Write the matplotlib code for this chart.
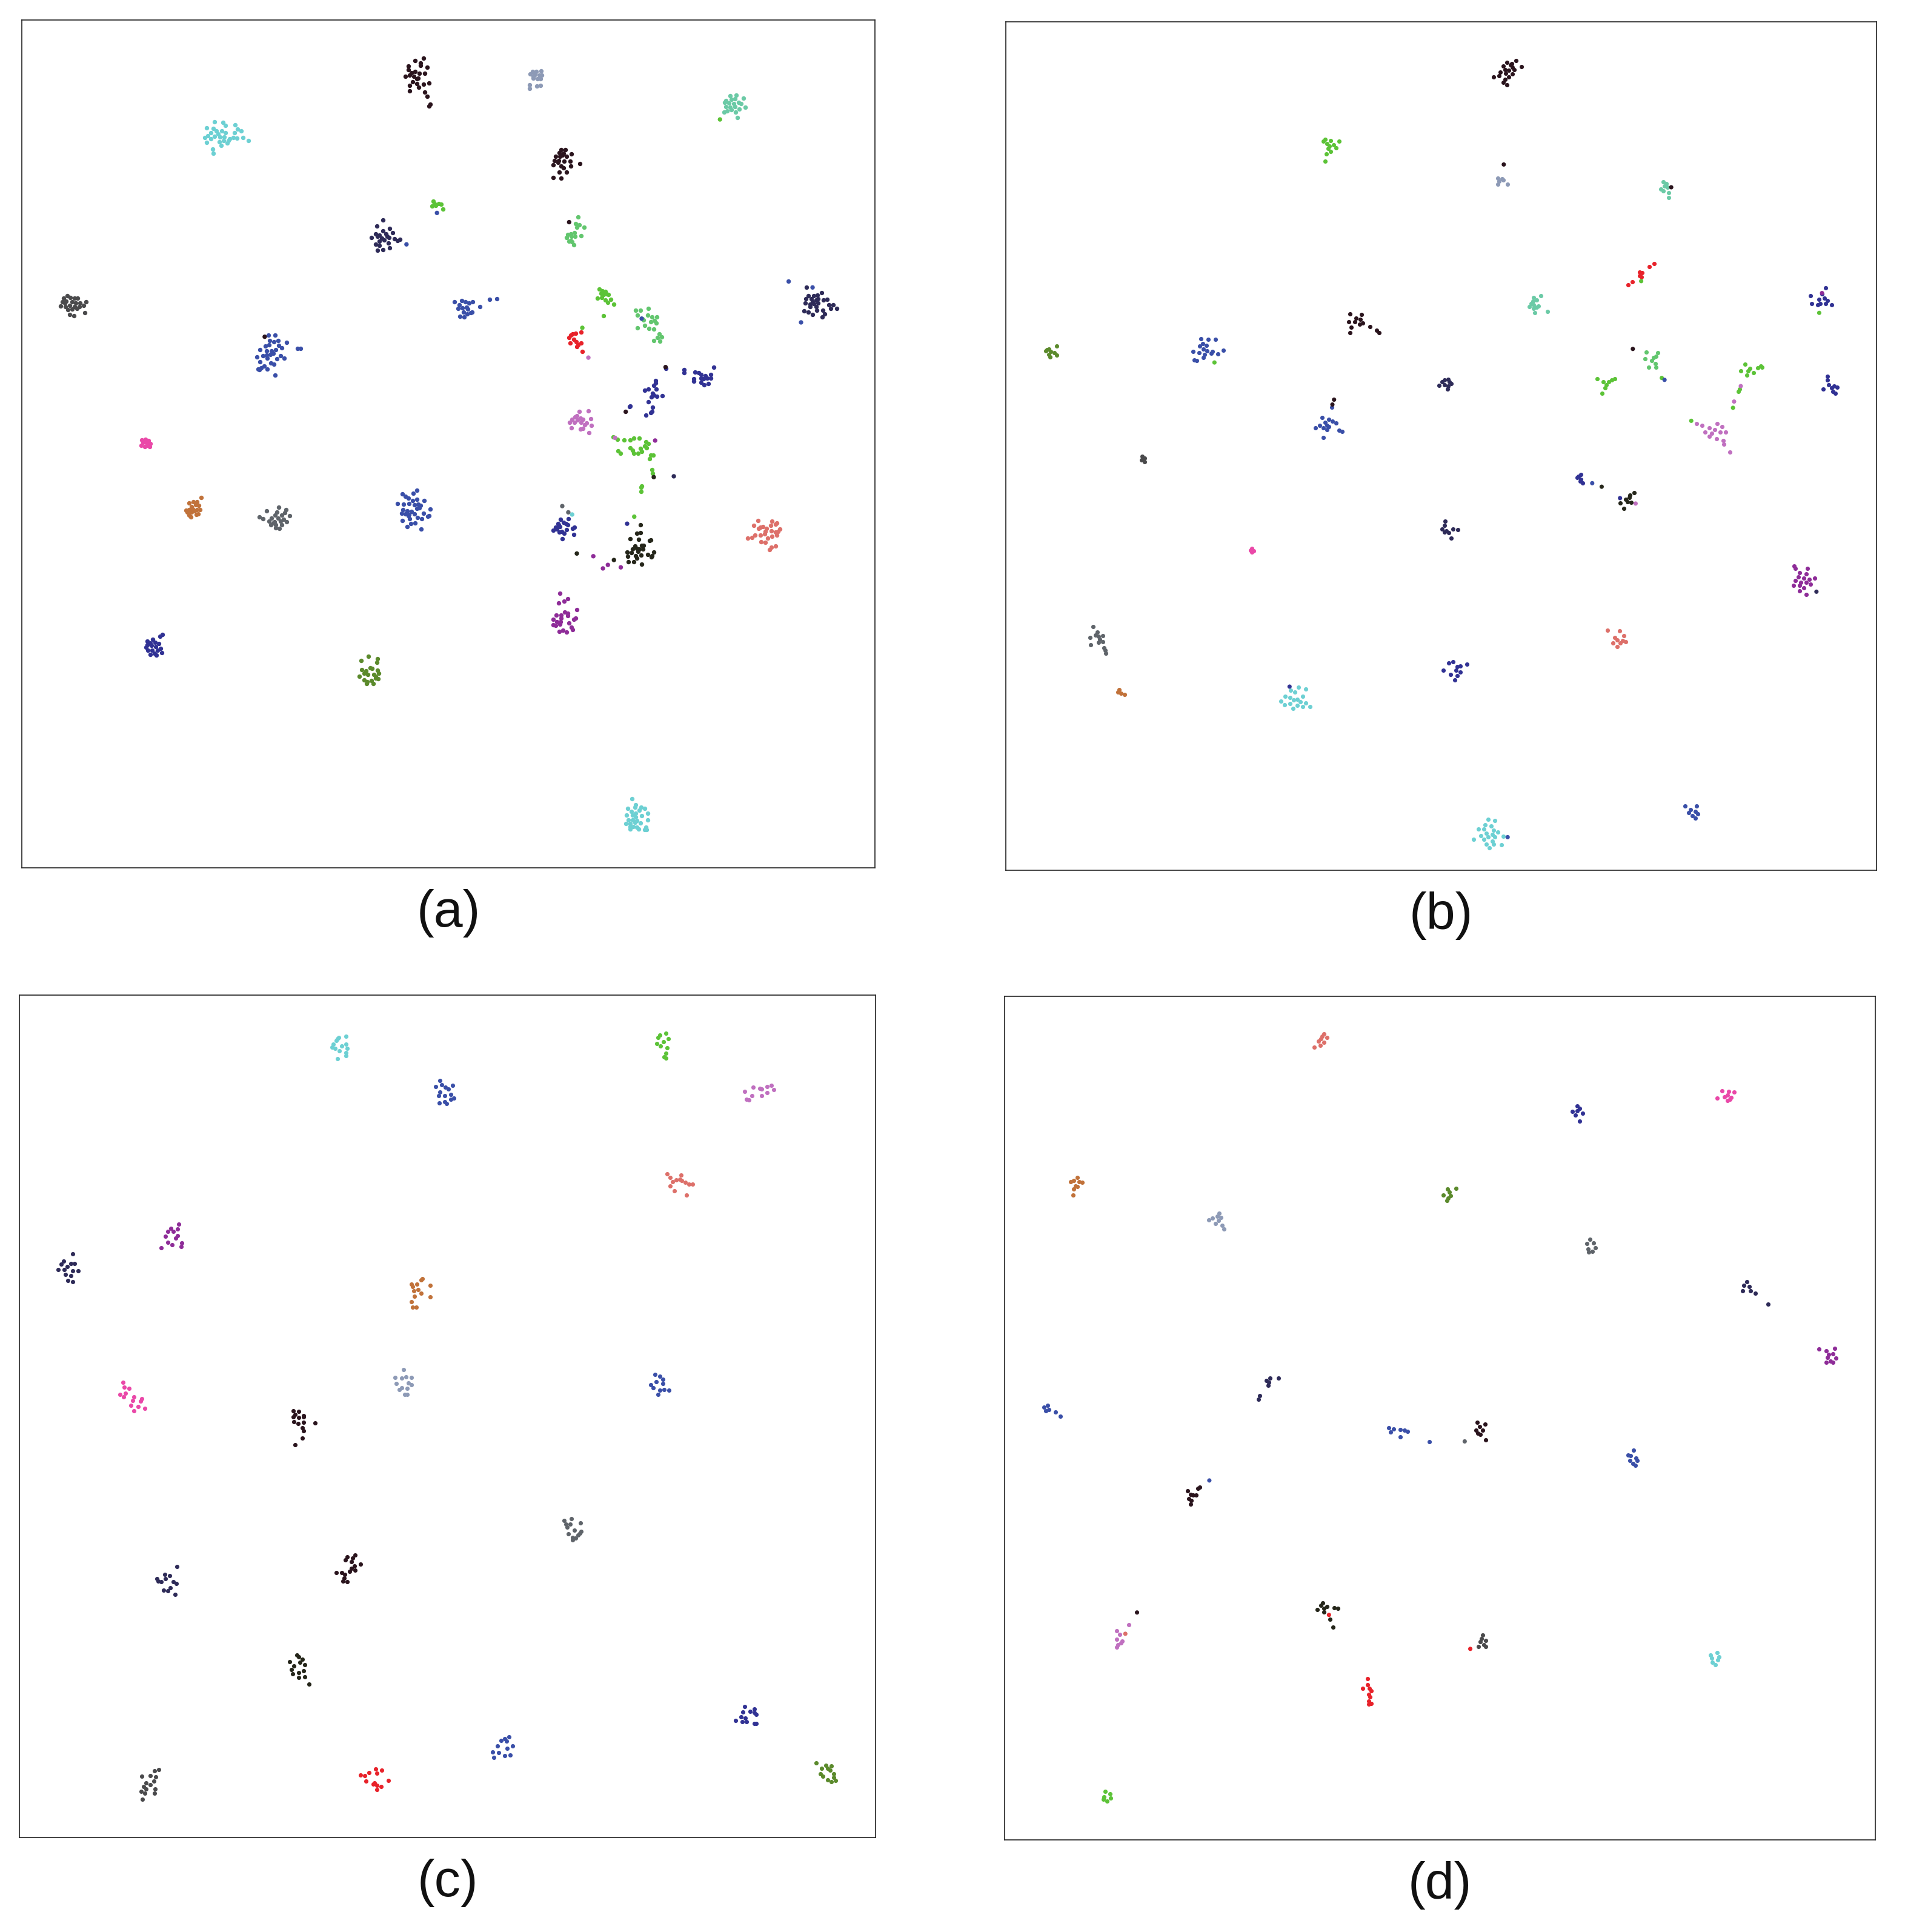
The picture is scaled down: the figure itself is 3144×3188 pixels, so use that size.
import matplotlib
matplotlib.use('Agg')
import matplotlib.pyplot as plt
import numpy as np

plt.rcParams['font.family'] = ['Liberation Sans', 'DejaVu Sans']

## colours of the classes
cyan = '#6dd0d3'
dkbrown = '#2a141d'
slate = '#8d9ab6'
mint = '#6bcaa6'
lime = '#5cc337'
sea = '#62c66e'
navy = '#2e2b58'
blue = '#3a4fa8'
indigo = '#313294'
dkgrey = '#4a4a4c'
grey = '#5f646a'
pink = '#ea48a8'
brown = '#c1723a'
olive = '#5b8a2c'
red = '#e8222a'
orchid = '#c070c0'
purple = '#8e2c98'
salmon = '#dd706a'
dkolive = '#25261a'

## =============================================================================
## (a)
## =============================================================================
a_dark1 = [(1410,172),(1435,150),(1465,143),(1455,160),(1478,175),(1410,185),(1420,195),(1435,192),(1450,198),(1470,198),
           (1400,210),(1415,205),(1430,210),(1445,215),(1425,230),(1440,235),(1465,237),(1485,233),(1415,242),(1448,250),
           (1415,262),(1470,268),(1478,282),(1490,312),(1485,318),(1455,168),(1440,218)]
a_cyan1 = [(704,376),(735,378),(743,390),(780,388),(675,400),(700,402),(710,410),(730,410),(788,403),(802,410),(690,416),
           (718,422),(745,418),(778,418),(670,435),(690,440),(705,430),(725,432),(740,432),(760,440),(772,434),(786,438),
           (808,435),(828,447),(675,452),(722,450),(738,446),(750,456),(728,465),(697,477),(700,492),(680,428),(755,445)]
a_lime1 = [(1500,670),(1505,678),(1495,688),(1520,678),(1528,682),(1535,698),(1510,686)]
a_navy1 = [(1318,738),(1295,762),(1342,770),(1318,780),(1290,790),(1305,795),(1328,790),(1353,785),(1275,803),(1298,800),
           (1312,806),(1332,800),(1340,805),(1360,808),(1370,815),(1380,810),(1290,828),(1303,834),(1338,825),(1297,851),
           (1318,848),(1342,842),(1305,818),(1322,812)]
a_dkgrey = [(168,1018),(155,1028),(180,1025),(195,1028),(205,1028),(150,1040),(165,1038),(185,1040),(200,1045),(215,1045),
            (236,1041),(145,1056),(162,1058),(178,1055),(195,1058),(212,1060),(228,1055),(170,1070),(185,1068),(203,1065),
            (233,1081),(177,1088),(193,1093),(160,1045)]
a_blue1 = [(900,1163),(924,1163),(905,1185),(920,1188),(935,1185),(967,1190),(890,1205),(903,1200),(937,1203),(950,1210),
           (870,1218),(895,1222),(912,1222),(928,1218),(1006,1213),(1018,1213),(858,1245),(880,1240),(893,1238),(908,1235),
           (918,1232),(944,1240),(957,1248),(870,1262),(897,1250),(932,1252),(910,1268),(920,1272),(885,1277),(875,1285),
           (862,1290),(868,1292),(897,1290),(925,1312)]
a_pink = [(440,1550),(452,1548),(465,1553),(445,1560),(458,1562),(470,1565),(438,1570),(462,1572),(450,1575),(468,1575)]
a_slate = [(1861,190),(1876,192),(1892,188),(1854,200),(1868,205),(1886,205),(1896,205),(1864,215),(1879,218),(1891,218),
           (1851,240),(1878,244),(1891,243),(1852,254),(1871,200),(1864,210)]
a_mint = [(2581,280),(2604,278),(2629,290),(2566,298),(2586,295),(2599,292),(2561,305),(2576,308),(2594,310),(2611,306),
          (2621,310),(2566,320),(2581,322),(2598,320),(2636,322),(2558,340),(2571,336),(2586,332),(2601,342),(2614,330),(2608,360)]
a_dark2 = [(1966,480),(1981,480),(1958,490),(1974,492),(2004,496),(1946,505),(1961,505),(1986,505),(1941,520),(1956,520),
           (1976,522),(1998,523),(2033,530),(1938,535),(1954,527),(1966,540),(2001,540),(1974,547),(1959,562),(1986,563),
           (1938,582),(1966,584),(1971,500)]
a_sea = [(2027,727),(2018,752),(2031,758),(2024,765),(2049,767),(1989,793),(2001,790),(2014,785),(2038,797),(1986,805),
         (2004,800),(2016,800),(1994,818),(2006,820),(2011,830),(2001,815)]
a_blue2 = [(1578,1042),(1604,1036),(1618,1040),(1631,1045),(1644,1040),(1596,1052),(1621,1062),(1591,1066),(1606,1064),
           (1626,1068),(1641,1078),(1611,1080),(1624,1086),(1598,1095),(1612,1098),(1636,1082),(1670,1060),(1706,1033),(1732,1030)]
a_lime2 = [(2104,994),(2116,1000),(2126,1003),(2111,1010),(2121,1015),(2131,1012),(2138,1015),(2099,1028),(2114,1025),
           (2126,1035),(2146,1033),(2136,1043),(2158,1049),(2121,1092)]
a_green1 = [(2236,1072),(2254,1073),(2284,1066),(2243,1090),(2281,1090),(2261,1103),(2296,1097),(2314,1097),(2306,1110),
            (2266,1108),(2291,1115),(2311,1120),(2244,1138),(2271,1128),(2286,1140),(2302,1142),(2324,1160),(2316,1173),
            (2331,1170),(2304,1185),(2326,1187)]
a_red = [(2038,1153),(2018,1157),(2008,1160),(2001,1165),(1994,1172),(2011,1180),(1998,1192),(2021,1188),(2038,1193),
         (2028,1200),(2024,1207),(2043,1225)]
a_navy2 = [(2859,988),(2914,1008),(2866,1018),(2886,1018),(2898,1016),(2856,1030),(2876,1030),(2901,1030),(2921,1035),
           (2933,1032),(2854,1046),(2871,1050),(2886,1048),(2901,1045),(2941,1052),(2956,1052),(2871,1060),(2894,1058),
           (2946,1065),(2969,1066),(2851,1075),(2866,1080),(2881,1088),(2896,1073),(2919,1073),(2924,1085),(2916,1098),
           (2881,1040),(2895,1035)]
a_blue3 = [(2414,1292),(2414,1302),(2454,1300),(2466,1302),(2476,1310),(2491,1313),(2511,1309),(2521,1283),(2449,1325),
           (2474,1322),(2484,1325),(2498,1323),(2511,1323),(2449,1335),(2476,1338),(2486,1348),(2501,1342),(2348,1288)]
a_indigo1 = [(2309,1332),(2309,1340),(2304,1350),(2283,1363),(2271,1368),(2312,1363),(2298,1378),(2304,1385),(2314,1390),
             (2333,1388),(2294,1393),(2284,1410),(2298,1430),(2296,1445),(2291,1450),(2274,1460),(2218,1425),(2214,1428)]
a_orchid = [(2031,1445),(2066,1443),(2016,1465),(2036,1470),(2006,1475),(2026,1478),(2046,1475),(2074,1472),(1996,1485),
            (2014,1485),(2038,1485),(2058,1488),(2051,1495),(2076,1497),(2004,1507),(2036,1510),(2046,1508),(2068,1525),(2024,1462)]
a_green2 = [(2156,1540),(2171,1548),(2196,1552),(2218,1552),(2231,1545),(2251,1545),(2274,1558),(2284,1565),(2174,1591),
            (2182,1600),(2218,1581),(2226,1590),(2231,1600),(2246,1600),(2254,1583),(2259,1593),(2271,1573),(2276,1580),
            (2291,1606),(2301,1606),(2288,1620),(2296,1660),(2298,1675),(2259,1721),(2256,1725),(2256,1742)]
a_brown = [(655,1763),(612,1784),(628,1778),(640,1780),(635,1790),(620,1796),(648,1792),(600,1811),(612,1808),(625,1805),
           (640,1808),(652,1808),(605,1818),(620,1818),(632,1813),(644,1823),(612,1828),(618,1836),(638,1826)]
a_grey = [(938,1800),(965,1808),(893,1812),(932,1818),(960,1820),(925,1828),(948,1828),(978,1831),(868,1834),(880,1842),
          (912,1840),(935,1840),(955,1843),(903,1851),(922,1853),(945,1851),(967,1853),(910,1863),(928,1865),(950,1865),
          (927,1875),(940,1878),(918,1858)]
a_blue4 = [(1440,1736),(1388,1751),(1398,1758),(1428,1748),(1410,1766),(1425,1775),(1440,1770),(1468,1775),(1370,1785),
           (1393,1788),(1412,1785),(1432,1790),(1445,1788),(1455,1793),(1390,1808),(1405,1813),(1420,1814),(1440,1804),
           (1450,1801),(1490,1806),(1385,1822),(1400,1823),(1410,1830),(1432,1824),(1465,1822),(1485,1830),(1387,1848),
           (1415,1841),(1442,1838),(1458,1841),(1480,1833),(1418,1860),(1435,1858),(1406,1870),(1456,1879),(1412,1826)]
a_indigo2 = [(515,2268),(505,2276),(480,2286),(460,2293),(470,2301),(488,2298),(502,2303),(455,2316),(475,2310),(490,2313),
             (508,2320),(462,2328),(478,2326),(498,2328),(512,2335),(470,2343),(485,2338),(493,2346),(460,2306)]
a_olive = [(1265,2350),(1298,2358),(1237,2366),(1295,2371),(1240,2398),(1255,2403),(1270,2393),(1278,2394),(1298,2400),
           (1232,2423),(1248,2413),(1262,2416),(1285,2416),(1302,2411),(1250,2436),(1260,2443),(1275,2438),(1290,2430),
           (1300,2433),(1258,2451),(1282,2450),(1290,2423)]
a_indigo3 = [(1964,1843),(1993,1841),(1974,1856),(1954,1860),(1984,1860),(1991,1863),(1961,1870),(1946,1873),(1938,1884),
             (1951,1880),(1968,1888),(1986,1883),(2008,1878),(2014,1874),(1960,1892),(1976,1896),(2011,1900),(1970,1915),(1956,1865)]
a_dkolive = [(2254,1865),(2241,1896),(2254,1894),(2216,1915),(2248,1918),(2288,1923),(2291,1920),(2234,1943),(2258,1940),
             (2266,1940),(2226,1953),(2241,1951),(2251,1953),(2264,1953),(2206,1965),(2221,1966),(2246,1963),(2303,1965),
             (2236,1978),(2256,1976),(2281,1973),(2296,1978),(2209,1980),(2241,1986),(2294,1983),(2210,2000),(2231,2000),(2259,2009)]
a_salmon = [(2683,1848),(2734,1850),(2668,1866),(2691,1873),(2701,1871),(2714,1878),(2728,1866),(2746,1861),(2751,1858),
            (2684,1878),(2708,1888),(2731,1886),(2746,1890),(2761,1880),(2644,1913),(2661,1910),(2671,1901),(2691,1903),
            (2706,1898),(2718,1913),(2734,1906),(2751,1903),(2694,1926),(2708,1928),(2731,1946),(2746,1943),(2724,1956),(2756,1888)]
a_purple = [(1961,2116),(1991,2136),(1976,2146),(1956,2153),(2022,2178),(1978,2186),(1991,2190),(1949,2198),(1966,2198),
            (1989,2200),(2011,2213),(2018,2208),(1938,2214),(1951,2221),(1966,2208),(1964,2223),(1994,2226),(1936,2233),
            (1946,2236),(1961,2230),(2004,2243),(2008,2250),(1958,2258),(1973,2254),(1986,2260)]
a_cyan2 = [(2224,2874),(2236,2898),(2234,2906),(2208,2910),(2256,2906),(2271,2911),(2221,2923),(2236,2928),(2251,2918),
           (2281,2928),(2204,2936),(2226,2936),(2236,2943),(2258,2938),(2211,2953),(2226,2953),(2241,2956),(2281,2953),
           (2201,2966),(2218,2966),(2234,2963),(2254,2964),(2216,2978),(2229,2978),(2241,2980),(2274,2980),(2218,2986),
           (2249,2986),(2271,2990),(2276,2990)]
# single points sitting among other classes
a_stray = [(1514,713,blue),(1403,829,blue),(887,1170,dkbrown),(2544,368,lime),(1995,747,dkbrown),(2259,1103,blue),
           (2043,1137,lime),(2065,1247,orchid),(2794,966,blue),(2839,1117,blue),(2881,988,blue),(2346,1282,dkbrown),
           (2201,1447,dkbrown),(2308,1553,purple),(2162,1543,orchid),(2303,1688,dkolive),(2376,1685,navy),
           (1970,1795,grey),(1992,1818,grey),(2006,1826,cyan),(2232,1834,lime),(2206,1860,indigo),(2158,1994,dkolive),
           (2023,1970,dkolive),(2083,1980,purple),(2118,2025,purple),(2136,2012,purple),(2183,2021,purple)]

panel_a = [(a_dark1,dkbrown),(a_cyan1,cyan),(a_lime1,lime),(a_navy1,navy),(a_dkgrey,dkgrey),(a_blue1,blue),(a_pink,pink),
           (a_slate,slate),(a_mint,mint),(a_dark2,dkbrown),(a_sea,sea),(a_blue2,blue),(a_lime2,lime),(a_green1,sea),
           (a_red,red),(a_navy2,navy),(a_blue3,indigo),(a_indigo1,indigo),(a_orchid,orchid),(a_green2,lime),
           (a_brown,brown),(a_grey,grey),(a_blue4,blue),(a_indigo2,indigo),(a_olive,olive),(a_indigo3,indigo),
           (a_dkolive,dkolive),(a_salmon,salmon),(a_purple,purple),(a_cyan2,cyan)]

## =============================================================================
## (b)
## =============================================================================
b_dark1 = [(918,146),(902,152),(910,156),(895,165),(912,170),(928,168),(898,178),(905,180),(915,178),(890,188),(900,192),
           (912,195),(878,205),(887,200),(905,205),(898,215),(895,225),(902,235),(908,160)]
b_lime1 = [(575,435),(572,443),(585,440),(600,442),(578,450),(583,460),(590,455),(595,466),(580,470),(585,480),(577,488),(575,515)]
b_slate = [(885,578),(893,580),(888,590),(895,585),(885,600),(903,600)]
b_mint1 = [(1183,592),(1188,598),(1185,607),(1190,612),(1178,618),(1183,625),(1192,633),(1192,650)]
b_red = [(1166,893),(1158,905),(1140,925),(1145,928),(1140,938),(1143,942),(1127,960),(1120,972)]
b_mint2 = [(963,1012),(950,1018),(955,1027),(945,1040),(950,1045),(958,1050),(942,1052),(950,1058),(955,1055),(975,1070),
           (952,1075),(948,1033)]
b_dark2 = [(620,1078),(640,1082),(630,1095),(638,1100),(617,1108),(628,1108),(643,1112),(637,1118),(622,1128),(655,1125),
           (668,1140),(672,1148),(620,1148)]
b_olive = [(78,1208),(92,1197),(73,1215),(82,1218),(88,1222),(78,1228),(92,1230),(80,1237),(75,1210)]
b_blue1 = [(352,1170),(365,1173),(378,1172),(355,1188),(350,1197),(362,1195),(338,1218),(356,1208),(363,1215),(372,1218),
           (392,1213),(348,1222),(358,1228),(370,1224),(382,1227),(340,1248),(344,1250),(356,1240)]
b_navy1 = [(790,1322),(796,1320),(785,1330),(798,1330),(802,1335),(790,1340),(796,1345),(780,1342),(795,1355)]
b_indigo1 = [(1475,982),(1447,1013),(1468,1005),(1472,1020),(1462,1025),(1478,1030),(1450,1040),(1465,1040),(1475,1042),
             (1485,1045),(1460,1045)]
b_sea = [(1173,1222),(1152,1220),(1165,1240),(1170,1235),(1150,1245),(1162,1252),(1168,1262),(1157,1275),(1170,1275)]
b_lime2 = [(1095,1318),(1090,1322),(1085,1330),(1064,1318),(1075,1330),(1080,1340),(1078,1352),(1073,1372)]
b_lime3 = [(1330,1265),(1358,1270),(1360,1275),(1338,1280),(1352,1278),(1322,1290),(1335,1290),(1345,1295),(1333,1305),
           (1320,1357),(1318,1365)]
b_indigo2 = [(1478,1310),(1478,1322),(1480,1340),(1470,1355),(1490,1345),(1485,1352),(1495,1350),(1488,1365),(1492,1372)]
b_blue2 = [(587,1422),(570,1460),(582,1468),(575,1478),(588,1475),(565,1490),(578,1490),(595,1480),(558,1498),(572,1500),
           (582,1495),(600,1508),(605,1513),(572,1535),(578,1505)]
b_orchid = [(1243,1483),(1252,1490),(1280,1483),(1265,1500),(1275,1505),(1288,1495),(1258,1515),(1270,1520),(1285,1515),
            (1295,1515),(1265,1530),(1278,1540),(1290,1545),(1292,1560),(1302,1588)]
b_dkgrey = [(246,1605),(250,1610),(245,1618),(250,1623),(248,1615)]
b_indigo3 = [(1035,1670),(1030,1678),(1028,1683),(1035,1688),(1033,1696),(1038,1703)]
b_dkolive = [(1130,1738),(1123,1746),(1122,1756),(1115,1763),(1118,1771),(1125,1774),(1105,1776),(1112,1796)]
b_navy2 = [(791,1843),(790,1858),(785,1873),(793,1878),(797,1886),(790,1883),(805,1873),(813,1875),(801,1906)]
b_pink = [(443,1943),(441,1950),(446,1953),(443,1958)]
b_purple = [(1418,2008),(1420,2018),(1442,2018),(1428,2033),(1440,2038),(1425,2048),(1435,2053),(1445,2058),(1455,2053),
            (1420,2063),(1430,2068),(1440,2068),(1417,2081),(1428,2080),(1447,2075),(1435,2088),(1428,2100),(1440,2113)]
b_grey = [(158,2231),(165,2251),(162,2263),(168,2268),(175,2266),(152,2273),(170,2278),(175,2288),(168,2290),(153,2299),
          (177,2310),(180,2318),(181,2331)]
b_salmon = [(1082,2246),(1104,2248),(1112,2265),(1095,2273),(1100,2280),(1110,2283),(1092,2293),(1105,2293),(1100,2306),(1115,2288)]
b_indigo4 = [(805,2361),(797,2365),(830,2371),(812,2380),(818,2376),(787,2393),(810,2393),(818,2400),(800,2408),(812,2413),(808,2428)]
b_brown = [(205,2465),(203,2473),(208,2478),(215,2481)]
b_cyan1 = [(527,2455),(540,2463),(513,2466),(520,2473),(503,2488),(535,2488),(512,2493),(525,2500),(518,2503),(495,2506),
           (530,2508),(540,2513),(512,2516),(502,2520),(525,2523),(535,2526),(517,2533),(548,2526)]
b_blue3 = [(1222,2893),(1243,2893),(1232,2906),(1240,2913),(1228,2918),(1245,2923),(1235,2930),(1240,2938)]
b_cyan2 = [(868,2943),(880,2946),(862,2963),(873,2968),(850,2978),(860,2978),(878,2983),(885,2990),(865,2993),(875,2998),
           (855,3003),(868,3008),(880,3008),(895,3005),(842,3016),(860,3016),(875,3023),(865,3033),(878,3033),(892,3036),(870,3048)]
b_stray = [(896,528,dkbrown),(1197,612,dkbrown),(1143,958,lime),(376,1258,lime),(1463,1075,lime),(1468,1002,purple),
           (1128,1208,dkbrown),(1180,1315,lime),(1185,1322,blue),(1322,1345,orchid),(1310,1402,orchid),(1308,1425,lime),
           (591,1395,dkbrown),(588,1413,dkbrown),(1233,1473,lime),(1055,1703,blue),(1072,1716,dkolive),(1105,1758,indigo),
           (1133,1778,orchid),(1458,2103,navy),(511,2453,indigo),(903,3008,blue)]

panel_b = [(b_dark1,dkbrown),(b_lime1,lime),(b_slate,slate),(b_mint1,mint),(b_red,red),(b_mint2,mint),(b_dark2,dkbrown),
           (b_olive,olive),(b_blue1,blue),(b_navy1,navy),(b_indigo1,indigo),(b_sea,sea),(b_lime2,lime),(b_lime3,lime),
           (b_indigo2,indigo),(b_blue2,blue),(b_orchid,orchid),(b_dkgrey,dkgrey),(b_indigo3,indigo),(b_dkolive,dkolive),
           (b_navy2,navy),(b_pink,pink),(b_purple,purple),(b_grey,grey),(b_salmon,salmon),(b_indigo4,indigo),
           (b_brown,brown),(b_cyan1,cyan),(b_blue3,blue),(b_cyan2,cyan)]

## =============================================================================
## (c)
## =============================================================================
c_cyan = [(598,155),(585,160),(580,170),(598,185),(575,185),(590,190),(578,200),(586,208),(600,200),(598,215),(598,228),
          (582,238),(573,195),(583,165)]
c_lime = [(1183,143),(1172,150),(1168,160),(1187,165),(1178,175),(1166,183),(1173,190),(1185,197),(1183,218),(1180,232),(1183,235)]
c_blue1 = [(770,320),(773,335),(793,337),(762,342),(780,345),(785,350),(770,362),(778,375),(767,375),(790,370),(795,385),
           (790,390),(778,397),(768,402),(782,405)]
c_orchid = [(1375,338),(1368,342),(1380,352),(1342,345),(1355,348),(1358,350),(1327,360),(1340,375),(1368,365),(1358,375),
            (1335,392),(1330,390)]
c_salmon = [(1185,665),(1210,670),(1190,680),(1202,688),(1208,685),(1195,695),(1218,698),(1225,705),(1232,705),(1190,710),
            (1198,728),(1220,745),(1212,690)]
c_purple = [(292,852),(278,868),(290,870),(272,880),(282,880),(268,898),(290,895),(287,905),(272,920),(298,922),(280,930),
            (260,940),(297,935)]
c_navy1 = [(98,963),(82,990),(95,998),(102,998),(77,1002),(88,1010),(72,1022),(83,1022),(98,1025),(108,1025),(85,1040),
           (95,1043),(90,1062),(98,1067)]
c_brown = [(738,1055),(735,1060),(718,1075),(728,1075),(752,1080),(720,1085),(730,1095),(722,1100),(735,1110),(752,1122),
           (723,1120),(718,1140),(720,1160),(727,1160)]
c_pink = [(190,1440),(193,1458),(202,1463),(185,1485),(195,1480),(192,1495),(210,1495),(225,1500),(208,1507),(222,1510),
          (205,1525),(218,1530),(230,1537),(210,1545)]
c_slate = [(703,1393),(688,1423),(700,1425),(708,1420),(718,1423),(690,1445),(712,1443),(718,1448),(700,1460),(695,1468),
           (710,1463),(705,1485),(710,1485)]
c_blue2 = [(1163,1410),(1172,1418),(1177,1428),(1165,1437),(1155,1450),(1177,1445),(1160,1460),(1172,1470),(1180,1467),
           (1188,1470),(1168,1485)]
c_dark1 = [(502,1545),(512,1548),(505,1560),(520,1563),(502,1568),(512,1571),(520,1568),(503,1586),(510,1593),(520,1588),
           (542,1590),(518,1608),(520,1621),(518,1646),(505,1671)]
c_grey = [(1010,1946),(997,1953),(1027,1961),(1000,1966),(1008,1966),(1002,1978),(1015,1988),(1028,1993),(1025,2000),
          (1005,2003),(1022,2008),(1012,2016),(1018,2018),(1012,2026)]
c_dark2 = [(615,2081),(600,2088),(610,2093),(597,2100),(608,2106),(625,2116),(613,2121),(608,2130),(615,2138),(580,2146),
           (590,2146),(605,2143),(596,2153),(595,2166),(592,2178),(600,2180)]
c_navy2 = [(289,2123),(267,2153),(276,2158),(268,2168),(252,2168),(255,2178),(260,2180),(282,2180),(288,2188),(277,2203),
           (265,2211),(272,2213),(286,2228)]
c_dkolive = [(508,2453),(512,2460),(495,2478),(518,2468),(514,2480),(523,2488),(503,2493),(498,2506),(520,2511),(512,2518),
             (500,2523),(512,2536),(523,2533),(530,2560)]
c_indigo = [(1327,2643),(1345,2653),(1323,2665),(1337,2663),(1345,2666),(1348,2673),(1320,2683),(1328,2686),(1310,2695),
            (1322,2700),(1330,2701),(1345,2708),(1348,2708)]
c_blue3 = [(896,2756),(888,2763),(882,2770),(892,2773),(875,2790),(903,2790),(893,2800),(866,2813),(877,2816),(898,2823),
           (888,2826),(868,2833)]
c_dkgrey = [(256,2878),(248,2883),(240,2901),(225,2903),(250,2906),(247,2921),(232,2928),(240,2934),(228,2940),(233,2951),
            (249,2951),(224,2960),(230,2966),(248,2966),(226,2988)]
c_red = [(652,2875),(663,2880),(640,2890),(625,2898),(632,2901),(655,2891),(675,2918),(635,2920),(650,2928),(655,2936),
         (648,2933),(662,2940),(655,2953)]
c_olive = [(1457,2854),(1475,2863),(1485,2865),(1467,2873),(1478,2873),(1483,2880),(1465,2893),(1490,2893),(1470,2903),
           (1490,2908),(1478,2916),(1485,2923),(1493,2918)]

panel_c = [(c_cyan,cyan),(c_lime,lime),(c_blue1,blue),(c_orchid,orchid),(c_salmon,salmon),(c_purple,purple),(c_navy1,navy),
           (c_brown,brown),(c_pink,pink),(c_slate,slate),(c_blue2,blue),(c_dark1,dkbrown),(c_grey,grey),(c_dark2,dkbrown),
           (c_navy2,navy),(c_dkolive,dkolive),(c_indigo,indigo),(c_blue3,blue),(c_dkgrey,dkgrey),(c_red,red),(c_olive,olive)]

## =============================================================================
## (d)
## =============================================================================
d_salmon = [(575,142),(572,150),(580,155),(570,160),(565,168),(575,172),(568,185),(558,192)]
d_pink = [(1290,353),(1302,355),(1312,358),(1300,368),(1295,375),(1307,378),(1282,380),(1300,390),(1305,385)]
d_indigo = [(1030,410),(1035,418),(1022,430),(1030,428),(1040,436),(1027,443),(1035,465)]
d_brown = [(132,675),(125,685),(135,690),(120,690),(140,692),(128,705),(132,708),(125,717),(124,740)]
d_olive = [(797,718),(812,716),(800,728),(790,740),(803,742),(798,752),(796,760)]
d_slate = [(387,808),(383,818),(390,822),(375,825),(368,833),(385,835),(380,845),(392,852),(395,865)]
d_grey = [(1053,905),(1048,920),(1060,918),(1063,935),(1050,940),(1057,948),(1051,952)]
d_navy1 = [(1335,1062),(1330,1075),(1340,1080),(1328,1095),(1342,1095),(1350,1105),(1373,1145)]
d_purple = [(1465,1310),(1493,1308),(1478,1318),(1490,1328),(1482,1332),(1480,1342),(1495,1345),(1485,1355),(1478,1360),(1490,1360)]
d_navy2 = [(478,1418),(493,1418),(472,1428),(476,1435),(475,1445),(460,1485),(457,1498)]
d_blue1 = [(78,1520),(72,1528),(80,1535),(75,1540),(92,1545),(101,1560)]
d_blue2 = [(692,1603),(700,1608),(712,1610),(720,1613),(725,1618),(695,1620),(712,1638),(764,1655)]
d_dark1 = [(850,1583),(865,1590),(855,1598),(848,1613),(860,1613),(852,1623),(856,1628),(866,1648)]
d_blue3 = [(1132,1686),(1122,1704),(1126,1706),(1136,1716),(1125,1726),(1138,1726),(1130,1736),(1135,1743)]
d_dark2 = [(352,1823),(348,1828),(330,1838),(340,1853),(335,1850),(345,1853),(332,1866),(336,1873),(335,1886)]
d_dkolive = [(573,2253),(570,2263),(580,2266),(563,2278),(575,2273),(593,2271),(600,2273),(575,2288),(586,2314),(591,2344)]
d_orchid = [(224,2335),(202,2358),(208,2371),(202,2388),(212,2396),(205,2408),(210,2403),(203,2418)]
d_dkgrey = [(860,2373),(858,2386),(866,2393),(856,2398),(862,2408),(853,2416),(866,2416)]
d_cyan = [(1282,2438),(1270,2448),(1285,2453),(1272,2458),(1283,2466),(1273,2473),(1278,2483)]
d_red = [(653,2534),(653,2558),(645,2571),(657,2570),(660,2580),(655,2593),(658,2603),(655,2618),(660,2626),(655,2630)]
d_lime = [(182,2953),(190,2963),(180,2973),(192,2978),(185,2988),(178,2983)]
d_stray = [(828,1654,grey),(369,1799,blue),(584,2298,red),(239,2289,dkbrown),(218,2368,salmon),(838,2424,red)]

panel_d = [(d_salmon,salmon),(d_pink,pink),(d_indigo,indigo),(d_brown,brown),(d_olive,olive),(d_slate,slate),(d_grey,grey),
           (d_navy1,navy),(d_purple,purple),(d_navy2,navy),(d_blue1,blue),(d_blue2,blue),(d_dark1,dkbrown),(d_blue3,blue),
           (d_dark2,dkbrown),(d_dkolive,dkolive),(d_orchid,orchid),(d_dkgrey,dkgrey),(d_cyan,cyan),(d_red,red),(d_lime,lime)]

## =============================================================================
## figure
## =============================================================================
W, H = 3144, 3188
fig = plt.figure(figsize=(W / 100, H / 100), dpi=100)

def box(x0, y0, x1, y1):
    return [x0 / W, 1 - y1 / H, (x1 - x0) / W, (y1 - y0) / H]

panels = [
    (panel_a, a_stray, box(36, 33, 1444, 1432), (3, 3108), (3130, 1), '(a)', 28),
    (panel_b, b_stray, box(1660, 36, 3097, 1436), (1, 1566), (3130, 2), '(b)', 26),
    (panel_c, [], box(32, 1642, 1445, 3032), (1, 1566), (3130, 2), '(c)', 26),
    (panel_d, d_stray, box(1658, 1644, 3095, 3036), (1, 1566), (3133, 2), '(d)', 26),
]

for clusters, stray, rect, xl, yl, label, size in panels:
    ax = fig.add_axes(rect)
    for pts, col in clusters:
        pts = np.array(pts)
        ax.scatter(pts[:, 0], pts[:, 1], s=size, c=col, linewidths=0)
    if len(stray) > 0:
        ax.scatter([p[0] for p in stray], [p[1] for p in stray], s=size, c=[p[2] for p in stray], linewidths=0)
    ax.set_xlim(xl)
    ax.set_ylim(yl)
    ax.set_xticks([])
    ax.set_yticks([])
    for sp in ax.spines.values():
        sp.set_linewidth(1.2)
        sp.set_color('#222222')
    cx = rect[0] + rect[2] / 2
    ty = rect[1] - 75 / H
    fig.text(cx, ty, label, ha='center', va='center', fontsize=62, color='#111111')

plt.savefig('out.png', dpi=100)
